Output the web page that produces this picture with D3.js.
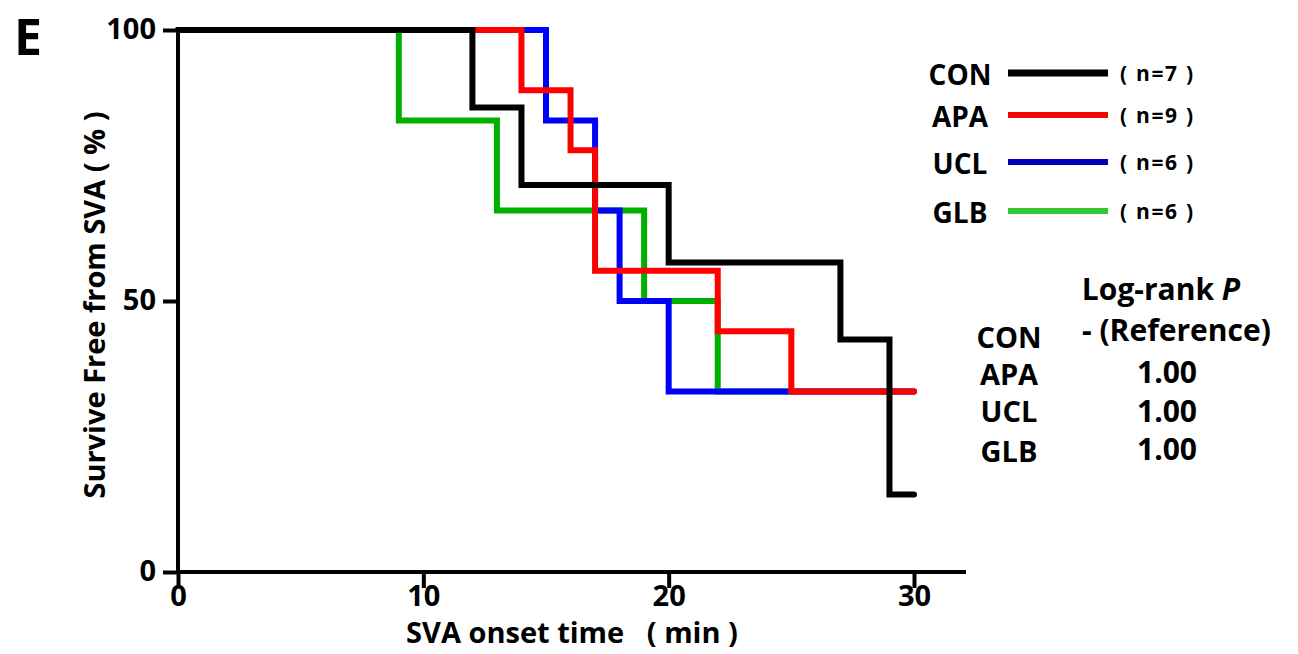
<!DOCTYPE html>
<html>
<head>
<meta charset="utf-8">
<script src="https://cdn.jsdelivr.net/npm/d3@7"></script>
<style>
  body { margin: 0; background: #fff; }
  text { font-family: "Open Sans", "Lato", sans-serif; font-weight: bold; fill: #000; }
</style>
</head>
<body>
<script>
(function(){

  // survival steps: time of each drop and survival (%) after it, last point = end of follow-up
  var groups = ["CON", "APA", "UCL", "GLB"];
  var counts = [7, 9, 6, 6];
  var conTimes = [0, 12, 14, 20, 27, 29, 30];
  var conSurv  = [100, 85.7, 71.4, 57.1, 42.9, 14.3, 14.3];
  var apaTimes = [0, 14, 16, 17, 22, 25, 30];
  var apaSurv  = [100, 88.9, 77.8, 55.6, 44.4, 33.3, 33.3];
  var uclTimes = [0, 15, 17, 18, 20, 30];
  var uclSurv  = [100, 83.3, 66.7, 50, 33.3, 33.3];
  var glbTimes = [0, 9, 13, 19, 22, 30];
  var glbSurv  = [100, 83.3, 66.7, 50, 33.3, 33.3];
  var pValues = ["- (Reference)", "1.00", "1.00", "1.00"];
  var xTicks = [0, 10, 20, 30];
  var yTicks = [0, 50, 100];

  const W = 1298, H = 654;
  const LINE_COLORS = {CON: "#000000", APA: "#ff0000", UCL: "#0000ff", GLB: "#00b000"};
  const LEGEND_COLORS = {CON: "#000000", APA: "#ff0000", UCL: "#0000b8", GLB: "#33c833"};

  var series = {
    CON: d3.zip(conTimes, conSurv),
    APA: d3.zip(apaTimes, apaSurv),
    UCL: d3.zip(uclTimes, uclSurv),
    GLB: d3.zip(glbTimes, glbSurv)
  };

  var x = d3.scaleLinear().domain([0, 30]).range([178, 914]);
  var y = d3.scaleLinear().domain([0, 100]).range([572, 30]);

  var svg = d3.select("body").append("svg")
    .attr("width", W).attr("height", H);

  svg.append("text").attr("x", 14).attr("y", 55)
    .style("font-size", "50px").text("E");

  // axes
  var yAxis = svg.append("g").attr("transform", "translate(178,0)")
    .call(d3.axisLeft(y).tickValues(yTicks).tickSize(15).tickPadding(7));
  var xAxis = svg.append("g").attr("transform", "translate(0,572)")
    .call(d3.axisBottom(x).tickValues(xTicks).tickSize(16).tickPadding(0));

  [yAxis, xAxis].forEach(function(a){
    a.select(".domain").remove();
    a.selectAll(".tick line").attr("stroke", "#000").attr("stroke-width", 4);
    a.selectAll("text").style("font-size", "29px")
      .style("font-family", "'Open Sans', sans-serif").style("font-weight", "bold").attr("fill", "#000");
  });
  yAxis.selectAll("text").attr("dy", "0.3em");
  xAxis.selectAll("text").attr("dy", "0.62em");

  svg.append("line").attr("x1", 178).attr("x2", 178).attr("y1", y(100) - 2).attr("y2", 574)
    .attr("stroke", "#000").attr("stroke-width", 4);
  svg.append("line").attr("x1", 176).attr("x2", 966).attr("y1", 572).attr("y2", 572)
    .attr("stroke", "#000").attr("stroke-width", 4);

  svg.append("text").attr("x", 572).attr("y", 643).attr("text-anchor", "middle")
    .style("font-size", "29px").attr("xml:space", "preserve").text("SVA onset time   ( min )");
  svg.append("text").attr("transform", "translate(105,305) rotate(-90)").attr("text-anchor", "middle")
    .style("font-size", "29px").text("Survive Free from SVA ( % )");

  // curves
  var line = d3.line().x(function(d){ return x(d[0]); }).y(function(d){ return y(d[1]); })
    .curve(d3.curveStepAfter);

  ["GLB", "UCL", "APA", "CON"].forEach(function(g){
    svg.append("path").attr("d", line(series[g]))
      .attr("fill", "none").attr("stroke", LINE_COLORS[g])
      .attr("stroke-width", 6).attr("stroke-linejoin", "miter").attr("stroke-linecap", "round");
  });

  // legend
  var legY = [73, 115, 162, 211];
  var leg = svg.selectAll(".leg").data(groups).enter().append("g").attr("class", "leg")
    .attr("transform", function(d, i){ return "translate(0," + legY[i] + ")"; });
  leg.append("text").attr("x", 960).attr("y", 2).attr("dy", "0.36em").attr("text-anchor", "middle")
    .style("font-size", "28px").text(function(d){ return d; });
  leg.append("line").attr("x1", 1008).attr("x2", 1108).attr("y1", 0).attr("y2", 0)
    .attr("stroke", function(d){ return LEGEND_COLORS[d]; })
    .attr("stroke-width", function(d){ return d === "CON" ? 7 : 6; });
  leg.append("text").attr("x", 1120).attr("y", 0).attr("dy", "0.36em")
    .attr("xml:space", "preserve").attr("textLength", 73).attr("lengthAdjust", "spacing")
    .style("font-size", "21px").text(function(d, i){ return "( n=" + counts[i] + " )"; });

  // log-rank table
  var lr = svg.append("text").attr("x", 1161).attr("y", 289).attr("dy", "0.36em").attr("text-anchor", "middle")
    .style("font-size", "30px");
  lr.append("tspan").text("Log-rank ");
  lr.append("tspan").style("font-style", "italic").text("P");

  var rowY = [338, 375, 412, 452];
  var valY = [330, 372, 411, 449];
  svg.selectAll(".lrname").data(groups).enter().append("text")
    .attr("x", 1009).attr("y", function(d, i){ return rowY[i]; }).attr("dy", "0.36em")
    .attr("text-anchor", "middle").style("font-size", "29px").text(function(d){ return d; });
  svg.selectAll(".lrval").data(pValues).enter().append("text")
    .attr("x", function(d, i){ return i === 0 ? 1082 : 1167; })
    .attr("y", function(d, i){ return valY[i]; }).attr("dy", "0.36em")
    .attr("text-anchor", function(d, i){ return i === 0 ? "start" : "middle"; })
    .style("font-size", "30px").text(function(d){ return d; });

})();
</script>
</body>
</html>
